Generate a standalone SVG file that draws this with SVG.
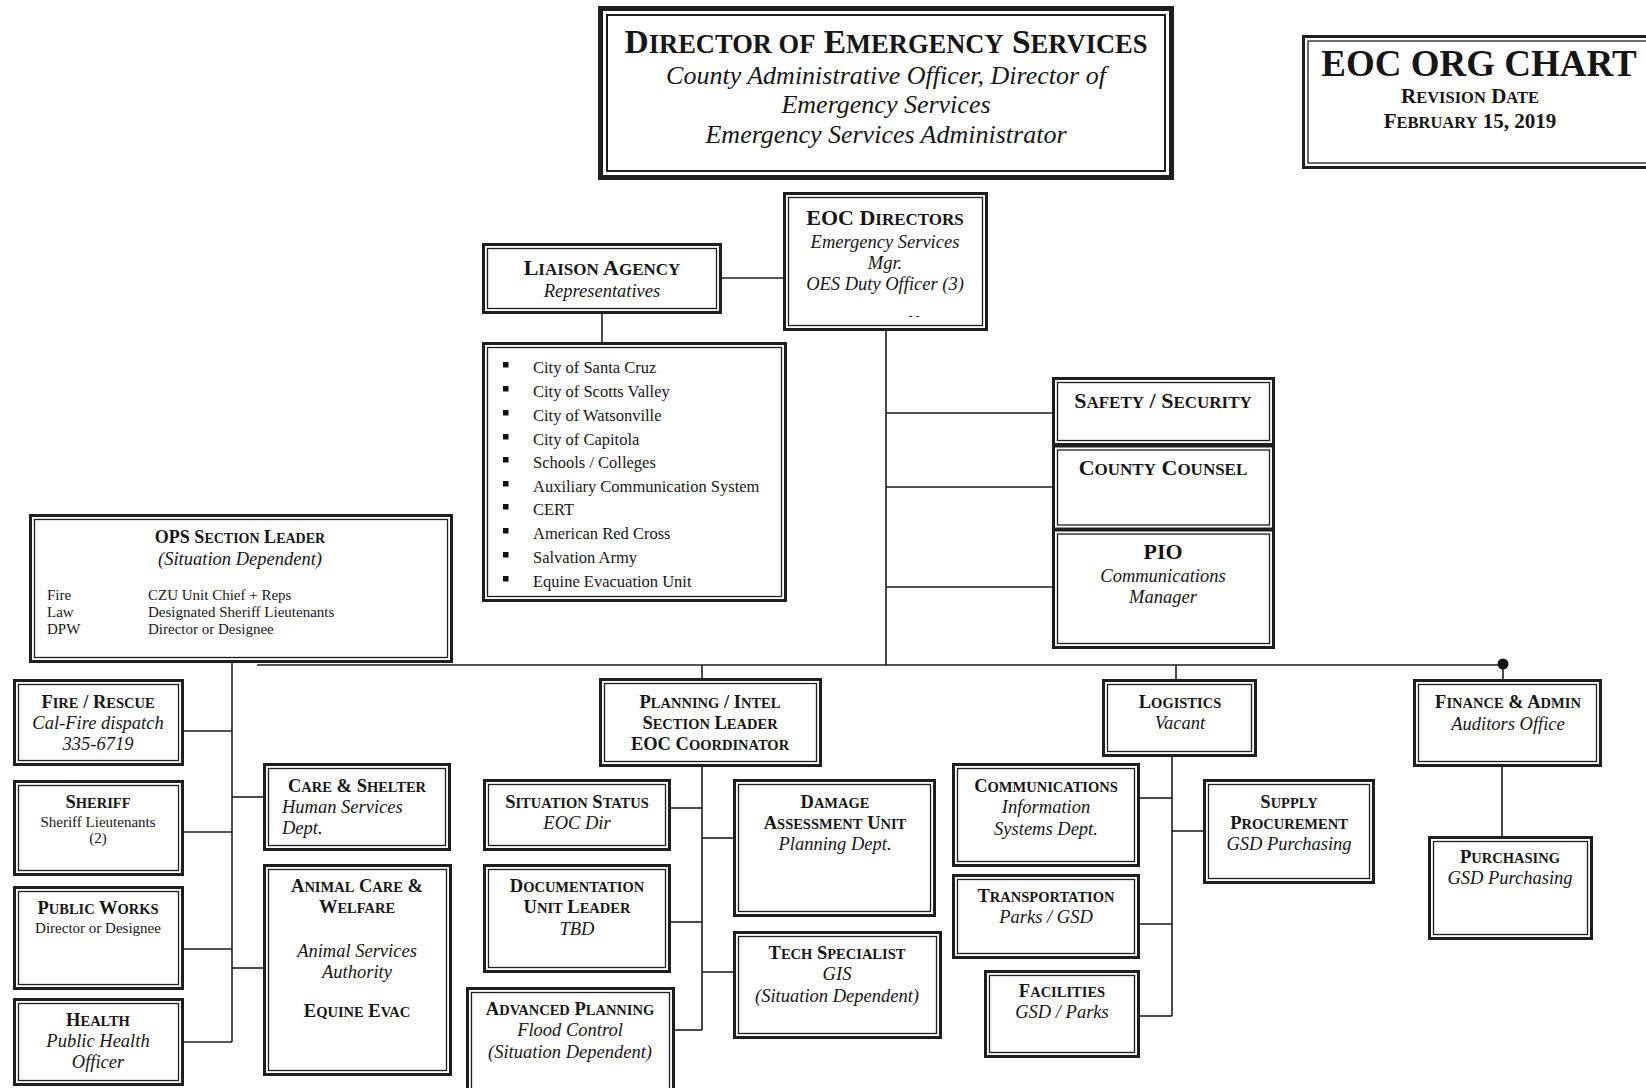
<svg xmlns="http://www.w3.org/2000/svg" width="1646" height="1088" viewBox="0 0 1646 1088">
<style>
  text { font-family: "Liberation Serif", "Times New Roman", serif; fill: #161616; }
  .o { fill: none; stroke: #1e1e1e; stroke-width: 3; }
  .i { fill: none; stroke: #1e1e1e; stroke-width: 1.3; }
  .bg { fill: #ffffff; stroke: none; }
  .ln { stroke: #1e1e1e; stroke-width: 1.6; fill: none; }
  .c { text-anchor: middle; }
  .h1 { font-weight: bold; font-size: 33.5px; }
  .h1 .s { font-size: 26.5px; }
  .h2 { font-weight: bold; font-size: 22px; }
  .h2 .s { font-size: 17px; }
  .h3 { font-weight: bold; font-size: 18.5px; }
  .h3 .s { font-size: 14.5px; }
  .it { font-style: italic; font-size: 18.5px; }
  .it2 { font-style: italic; font-size: 26px; }
  .r { font-size: 15px; }
  .li { font-size: 16.5px; }
  .b { fill: #111; }
</style>
<rect width="1646" height="1088" fill="#ffffff"/>

<g id="connectors">
  <line class="ln" x1="722" y1="278" x2="783" y2="278"/>
  <line class="ln" x1="602" y1="314" x2="602" y2="342"/>
  <line class="ln" x1="886" y1="331" x2="886" y2="665"/>
  <line class="ln" x1="886" y1="413" x2="1052" y2="413"/>
  <line class="ln" x1="886" y1="487" x2="1052" y2="487"/>
  <line class="ln" x1="886" y1="587" x2="1052" y2="587"/>
  <line class="ln" x1="257" y1="665" x2="1503" y2="665"/>
  <circle cx="1503" cy="664" r="5.5" fill="#111"/>
  <line class="ln" x1="232" y1="663" x2="232" y2="1042"/>
  <line class="ln" x1="184" y1="731" x2="232" y2="731"/>
  <line class="ln" x1="184" y1="832" x2="232" y2="832"/>
  <line class="ln" x1="184" y1="949" x2="232" y2="949"/>
  <line class="ln" x1="184" y1="1042" x2="232" y2="1042"/>
  <line class="ln" x1="232" y1="797" x2="263" y2="797"/>
  <line class="ln" x1="232" y1="968" x2="263" y2="968"/>
  <line class="ln" x1="702" y1="665" x2="702" y2="678"/>
  <line class="ln" x1="702" y1="767" x2="702" y2="1030"/>
  <line class="ln" x1="671" y1="808" x2="702" y2="808"/>
  <line class="ln" x1="671" y1="922" x2="702" y2="922"/>
  <line class="ln" x1="675" y1="1030" x2="702" y2="1030"/>
  <line class="ln" x1="702" y1="838" x2="733" y2="838"/>
  <line class="ln" x1="702" y1="972" x2="733" y2="972"/>
  <line class="ln" x1="1176" y1="665" x2="1176" y2="679"/>
  <line class="ln" x1="1172" y1="757" x2="1172" y2="1016"/>
  <line class="ln" x1="1140" y1="798" x2="1172" y2="798"/>
  <line class="ln" x1="1140" y1="924" x2="1172" y2="924"/>
  <line class="ln" x1="1140" y1="1016" x2="1172" y2="1016"/>
  <line class="ln" x1="1172" y1="831" x2="1203" y2="831"/>
  <line class="ln" x1="1503" y1="665" x2="1503" y2="679"/>
  <line class="ln" x1="1502" y1="767" x2="1502" y2="836"/>
</g>

<g id="director">
  <rect x="600.5" y="8.5" width="571" height="169" fill="#fff" stroke="#1e1e1e" stroke-width="5"/>
  <rect x="607" y="15" width="558" height="156" fill="none" stroke="#1e1e1e" stroke-width="2"/>
  <text class="h1 c" x="886" y="53">D<tspan class="s">IRECTOR OF</tspan> E<tspan class="s">MERGENCY</tspan> S<tspan class="s">ERVICES</tspan></text>
  <text class="it2 c" x="886" y="84">County Administrative Officer, Director of</text>
  <text class="it2 c" x="886" y="113">Emergency Services</text>
  <text class="it2 c" x="886" y="143">Emergency Services Administrator</text>
</g>

<g id="orgchart">
  <rect x="1303.5" y="36.5" width="360" height="131" fill="#fff" stroke="#1e1e1e" stroke-width="3"/>
  <rect x="1308" y="41" width="350" height="122" fill="none" stroke="#1e1e1e" stroke-width="1.3"/>
  <text class="c" x="1479" y="76" font-weight="bold" font-size="37">EOC ORG CHART</text>
  <text class="c" x="1470" y="103" font-weight="bold" font-size="21">R<tspan font-size="16.5">EVISION</tspan> D<tspan font-size="16.5">ATE</tspan></text>
  <text class="c" x="1470" y="128" font-weight="bold" font-size="21">F<tspan font-size="16.5">EBRUARY</tspan> 15, 2019</text>
</g>

<g id="eoc-directors">
  <rect class="bg" x="783" y="192" width="205" height="139"/>
  <rect class="o" x="784.5" y="193.5" width="202" height="136"/>
  <rect class="i" x="788.5" y="197.5" width="194" height="128"/>
  <text class="h2 c" x="885" y="225">EOC D<tspan class="s">IRECTORS</tspan></text>
  <text class="it c" x="885" y="248">Emergency Services</text>
  <text class="it c" x="885" y="269">Mgr.</text>
  <text class="it c" x="885" y="290">OES Duty Officer (3)</text>
  <text x="914" y="320" font-size="12" class="c">- -</text>
</g>

<g id="liaison">
  <rect class="bg" x="482" y="243" width="240" height="71"/>
  <rect class="o" x="483.5" y="244.5" width="237" height="68"/>
  <rect class="i" x="487.5" y="248.5" width="229" height="60"/>
  <text class="h2 c" x="602" y="275">L<tspan class="s">IAISON</tspan> A<tspan class="s">GENCY</tspan></text>
  <text class="it c" x="602" y="297" font-size="18">Representatives</text>
</g>

<g id="liaison-list">
  <rect class="bg" x="482" y="342" width="305" height="260"/>
  <rect class="o" x="483.5" y="343.5" width="302" height="257"/>
  <rect class="i" x="487.5" y="347.5" width="294" height="249"/>
  <g class="b">
    <rect x="503" y="362" width="5.5" height="5.5"/>
    <rect x="503" y="386" width="5.5" height="5.5"/>
    <rect x="503" y="410" width="5.5" height="5.5"/>
    <rect x="503" y="434" width="5.5" height="5.5"/>
    <rect x="503" y="457" width="5.5" height="5.5"/>
    <rect x="503" y="481" width="5.5" height="5.5"/>
    <rect x="503" y="504" width="5.5" height="5.5"/>
    <rect x="503" y="528" width="5.5" height="5.5"/>
    <rect x="503" y="552" width="5.5" height="5.5"/>
    <rect x="503" y="576" width="5.5" height="5.5"/>
  </g>
  <text class="li" x="533" y="373">City of Santa Cruz</text>
  <text class="li" x="533" y="397">City of Scotts Valley</text>
  <text class="li" x="533" y="421">City of Watsonville</text>
  <text class="li" x="533" y="445">City of Capitola</text>
  <text class="li" x="533" y="468">Schools / Colleges</text>
  <text class="li" x="533" y="492">Auxiliary Communication System</text>
  <text class="li" x="533" y="515">CERT</text>
  <text class="li" x="533" y="539">American Red Cross</text>
  <text class="li" x="533" y="563">Salvation Army</text>
  <text class="li" x="533" y="587">Equine Evacuation Unit</text>
</g>

<g id="safety">
  <rect class="bg" x="1052" y="377" width="223" height="69"/>
  <rect class="o" x="1053.5" y="378.5" width="220" height="66"/>
  <rect class="i" x="1057.5" y="382.5" width="212" height="58"/>
  <text class="h2 c" x="1163" y="408">S<tspan class="s">AFETY</tspan> / S<tspan class="s">ECURITY</tspan></text>
</g>
<g id="county-counsel">
  <rect class="o" x="1053.5" y="446" width="220" height="83"/>
  <rect class="i" x="1057.5" y="450" width="212" height="75"/>
  <text class="h2 c" x="1163" y="475">C<tspan class="s">OUNTY</tspan> C<tspan class="s">OUNSEL</tspan></text>
</g>
<g id="pio">
  <rect class="o" x="1053.5" y="530" width="220" height="117.5"/>
  <rect class="i" x="1057.5" y="534" width="212" height="109.5"/>
  <text class="h2 c" x="1163" y="559">PIO</text>
  <text class="it c" x="1163" y="582">Communications</text>
  <text class="it c" x="1163" y="603">Manager</text>
</g>

<g id="ops">
  <rect class="bg" x="29" y="514" width="424" height="149"/>
  <rect class="o" x="30.5" y="515.5" width="421" height="146"/>
  <rect class="i" x="34.5" y="519.5" width="413" height="138"/>
  <text class="c" x="240" y="543" font-weight="bold" font-size="18">OPS S<tspan font-size="14">ECTION</tspan> L<tspan font-size="14">EADER</tspan></text>
  <text class="it c" x="240" y="565" font-size="18">(Situation Dependent)</text>
  <text class="r" x="47" y="600">Fire</text>
  <text class="r" x="47" y="617">Law</text>
  <text class="r" x="47" y="634">DPW</text>
  <text class="r" x="148" y="600">CZU Unit Chief + Reps</text>
  <text class="r" x="148" y="617">Designated Sheriff Lieutenants</text>
  <text class="r" x="148" y="634">Director or Designee</text>
</g>

<g id="fire-rescue">
  <rect class="o" x="14.5" y="680.5" width="168" height="84"/>
  <rect class="i" x="18.5" y="684.5" width="160" height="76"/>
  <text class="h3 c" x="98" y="708">F<tspan class="s">IRE</tspan> / R<tspan class="s">ESCUE</tspan></text>
  <text class="it c" x="98" y="729">Cal-Fire dispatch</text>
  <text class="it c" x="98" y="750">335-6719</text>
</g>
<g id="sheriff">
  <rect class="o" x="14.5" y="781.5" width="168" height="93"/>
  <rect class="i" x="18.5" y="785.5" width="160" height="85"/>
  <text class="h3 c" x="98" y="808">S<tspan class="s">HERIFF</tspan></text>
  <text class="r c" x="98" y="827">Sheriff Lieutenants</text>
  <text class="r c" x="98" y="843">(2)</text>
</g>
<g id="public-works">
  <rect class="o" x="14.5" y="887.5" width="168" height="101"/>
  <rect class="i" x="18.5" y="891.5" width="160" height="93"/>
  <text class="h3 c" x="98" y="914">P<tspan class="s">UBLIC</tspan> W<tspan class="s">ORKS</tspan></text>
  <text class="r c" x="98" y="933">Director or Designee</text>
</g>
<g id="health">
  <rect class="o" x="14.5" y="999.5" width="168" height="85"/>
  <rect class="i" x="18.5" y="1003.5" width="160" height="77"/>
  <text class="h3 c" x="98" y="1026">H<tspan class="s">EALTH</tspan></text>
  <text class="it c" x="98" y="1047">Public Health</text>
  <text class="it c" x="98" y="1068">Officer</text>
</g>
<g id="care-shelter">
  <rect class="o" x="264.5" y="764.5" width="185" height="85"/>
  <rect class="i" x="268.5" y="768.5" width="177" height="77"/>
  <text class="h3 c" x="357" y="792">C<tspan class="s">ARE</tspan> &amp; S<tspan class="s">HELTER</tspan></text>
  <text class="it" x="282" y="813">Human Services</text>
  <text class="it" x="282" y="834">Dept.</text>
</g>
<g id="animal-care">
  <rect class="o" x="264.5" y="865.5" width="186" height="209"/>
  <rect class="i" x="268.5" y="869.5" width="178" height="201"/>
  <text class="h3 c" x="357" y="892">A<tspan class="s">NIMAL</tspan> C<tspan class="s">ARE</tspan> &amp;</text>
  <text class="h3 c" x="357" y="913">W<tspan class="s">ELFARE</tspan></text>
  <text class="it c" x="357" y="957">Animal Services</text>
  <text class="it c" x="357" y="978">Authority</text>
  <text class="h3 c" x="357" y="1017">E<tspan class="s">QUINE</tspan> E<tspan class="s">VAC</tspan></text>
</g>

<g id="planning">
  <rect class="bg" x="599" y="678" width="223" height="89"/>
  <rect class="o" x="600.5" y="679.5" width="220" height="86"/>
  <rect class="i" x="604.5" y="683.5" width="212" height="78"/>
  <text class="h3 c" x="710" y="708">P<tspan class="s">LANNING</tspan> / I<tspan class="s">NTEL</tspan></text>
  <text class="h3 c" x="710" y="729">S<tspan class="s">ECTION</tspan> L<tspan class="s">EADER</tspan></text>
  <text class="h3 c" x="710" y="750">EOC C<tspan class="s">OORDINATOR</tspan></text>
</g>
<g id="situation-status">
  <rect class="o" x="484.5" y="780.5" width="185" height="69"/>
  <rect class="i" x="488.5" y="784.5" width="177" height="61"/>
  <text class="h3 c" x="577" y="808">S<tspan class="s">ITUATION</tspan> S<tspan class="s">TATUS</tspan></text>
  <text class="it c" x="577" y="829">EOC Dir</text>
</g>
<g id="documentation">
  <rect class="o" x="484.5" y="865.5" width="185" height="106"/>
  <rect class="i" x="488.5" y="869.5" width="177" height="98"/>
  <text class="h3 c" x="577" y="892">D<tspan class="s">OCUMENTATION</tspan></text>
  <text class="h3 c" x="577" y="913">U<tspan class="s">NIT</tspan> L<tspan class="s">EADER</tspan></text>
  <text class="it c" x="577" y="935">TBD</text>
</g>
<g id="advanced-planning">
  <rect class="o" x="467.5" y="988.5" width="206" height="110"/>
  <rect class="i" x="471.5" y="992.5" width="198" height="102"/>
  <text class="h3 c" x="570" y="1015">A<tspan class="s">DVANCED</tspan> P<tspan class="s">LANNING</tspan></text>
  <text class="it c" x="570" y="1036">Flood Control</text>
  <text class="it c" x="570" y="1058">(Situation Dependent)</text>
</g>
<g id="damage-assessment">
  <rect class="o" x="734.5" y="780.5" width="200" height="135"/>
  <rect class="i" x="738.5" y="784.5" width="192" height="127"/>
  <text class="h3 c" x="835" y="808">D<tspan class="s">AMAGE</tspan></text>
  <text class="h3 c" x="835" y="829">A<tspan class="s">SSESSMENT</tspan> U<tspan class="s">NIT</tspan></text>
  <text class="it c" x="835" y="850">Planning Dept.</text>
</g>
<g id="tech-specialist">
  <rect class="o" x="734.5" y="932.5" width="206" height="105"/>
  <rect class="i" x="738.5" y="936.5" width="198" height="97"/>
  <text class="h3 c" x="837" y="959">T<tspan class="s">ECH</tspan> S<tspan class="s">PECIALIST</tspan></text>
  <text class="it c" x="837" y="980">GIS</text>
  <text class="it c" x="837" y="1002">(Situation Dependent)</text>
</g>

<g id="logistics">
  <rect class="bg" x="1102" y="679" width="155" height="78"/>
  <rect class="o" x="1103.5" y="680.5" width="152" height="75"/>
  <rect class="i" x="1107.5" y="684.5" width="144" height="67"/>
  <text class="h3 c" x="1180" y="708">L<tspan class="s">OGISTICS</tspan></text>
  <text class="it c" x="1180" y="729">Vacant</text>
</g>
<g id="communications">
  <rect class="o" x="953.5" y="764.5" width="185" height="101"/>
  <rect class="i" x="957.5" y="768.5" width="177" height="93"/>
  <text class="h3 c" x="1046" y="792">C<tspan class="s">OMMUNICATIONS</tspan></text>
  <text class="it c" x="1046" y="813">Information</text>
  <text class="it c" x="1046" y="835">Systems Dept.</text>
</g>
<g id="transportation">
  <rect class="o" x="953.5" y="875.5" width="185" height="82"/>
  <rect class="i" x="957.5" y="879.5" width="177" height="74"/>
  <text class="h3 c" x="1046" y="902">T<tspan class="s">RANSPORTATION</tspan></text>
  <text class="it c" x="1046" y="923">Parks / GSD</text>
</g>
<g id="facilities">
  <rect class="o" x="985.5" y="971.5" width="153" height="85"/>
  <rect class="i" x="989.5" y="975.5" width="145" height="77"/>
  <text class="h3 c" x="1062" y="997">F<tspan class="s">ACILITIES</tspan></text>
  <text class="it c" x="1062" y="1018">GSD / Parks</text>
</g>
<g id="supply-procurement">
  <rect class="o" x="1204.5" y="780.5" width="169" height="102"/>
  <rect class="i" x="1208.5" y="784.5" width="161" height="94"/>
  <text class="h3 c" x="1289" y="808">S<tspan class="s">UPPLY</tspan></text>
  <text class="h3 c" x="1289" y="829">P<tspan class="s">ROCUREMENT</tspan></text>
  <text class="it c" x="1289" y="850">GSD Purchasing</text>
</g>

<g id="finance">
  <rect class="bg" x="1413" y="679" width="189" height="88"/>
  <rect class="o" x="1414.5" y="680.5" width="186" height="85"/>
  <rect class="i" x="1418.5" y="684.5" width="178" height="77"/>
  <text class="h3 c" x="1508" y="708">F<tspan class="s">INANCE</tspan> &amp; A<tspan class="s">DMIN</tspan></text>
  <text class="it c" x="1508" y="730">Auditors Office</text>
</g>
<g id="purchasing">
  <rect class="o" x="1429.5" y="837.5" width="162" height="101"/>
  <rect class="i" x="1433.5" y="841.5" width="154" height="93"/>
  <text class="h3 c" x="1510" y="863">P<tspan class="s">URCHASING</tspan></text>
  <text class="it c" x="1510" y="884">GSD Purchasing</text>
</g>
</svg>
